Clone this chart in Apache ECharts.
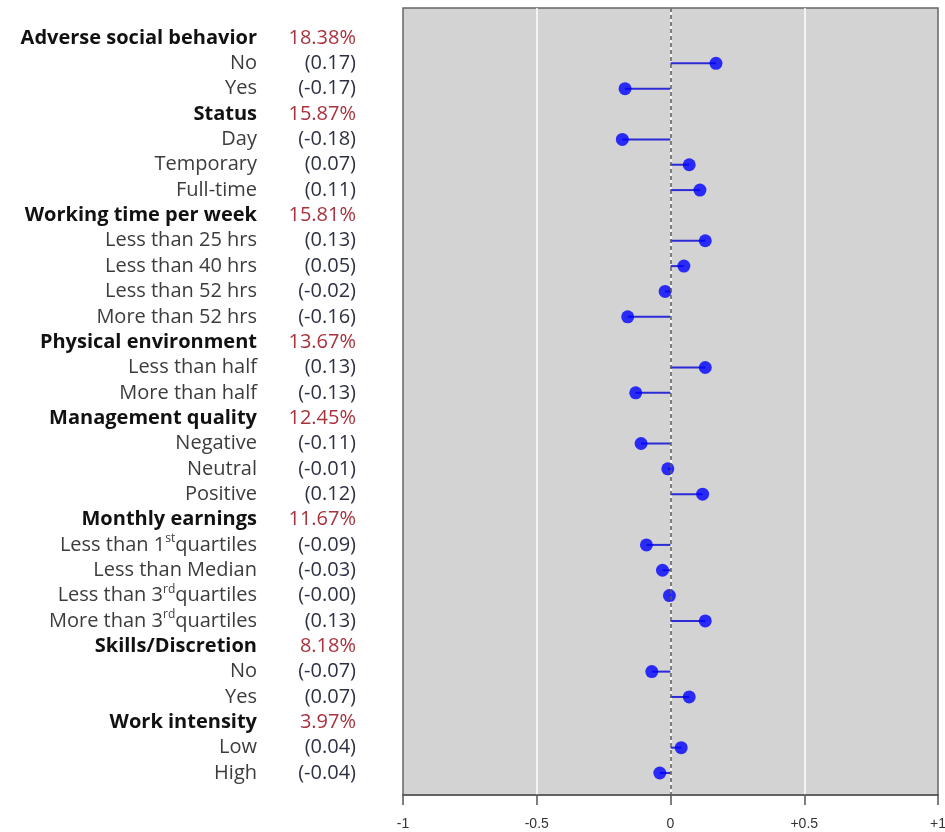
<!DOCTYPE html>
<html>
<head>
<meta charset="utf-8">
<script src="https://cdn.jsdelivr.net/npm/echarts@6/dist/echarts.min.js"></script>
<style>
  html, body { margin: 0; padding: 0; background: #fff; }
  #chart1 { width: 945px; height: 832px; }
</style>
</head>
<body>
<div id="chart1"></div>
<script>
// groups (bold rows) and their importance
var groupNames = ['Adverse social behavior', 'Status', 'Working time per week', 'Physical environment',
  'Management quality', 'Monthly earnings', 'Skills/Discretion', 'Work intensity'];
var groupShares = ['18.38%', '15.87%', '15.81%', '13.67%', '12.45%', '11.67%', '8.18%', '3.97%'];
// sub levels, ^..^ marks superscript
var levelNames = [
  ['No', 'Yes'],
  ['Day', 'Temporary', 'Full-time'],
  ['Less than 25 hrs', 'Less than 40 hrs', 'Less than 52 hrs', 'More than 52 hrs'],
  ['Less than half', 'More than half'],
  ['Negative', 'Neutral', 'Positive'],
  ['Less than 1^st^quartiles', 'Less than Median', 'Less than 3^rd^quartiles', 'More than 3^rd^quartiles'],
  ['No', 'Yes'],
  ['Low', 'High']
];
var levelValues = [
  [0.17, -0.17],
  [-0.18, 0.07, 0.11],
  [0.13, 0.05, -0.02, -0.16],
  [0.13, -0.13],
  [-0.11, -0.01, 0.12],
  [-0.09, -0.03, -0.004, 0.13],
  [-0.07, 0.07],
  [0.04, -0.04]
];
var xTicks = [-1, -0.5, 0, 0.5, 1];

// flatten into rows
var rows = [];
var points = [];
for (var g = 0; g < groupNames.length; g++) {
  rows.push({ header: true, name: groupNames[g], right: groupShares[g] });
  for (var k = 0; k < levelNames[g].length; k++) {
    var v = levelValues[g][k];
    points.push([v, rows.length]);
    rows.push({ header: false, name: levelNames[g][k], right: '(' + v.toFixed(2) + ')' });
  }
}
var rowIdx = rows.map(function (r, i) { return i; });

var FONT = 'Open Sans';
var myChart = echarts.init(document.getElementById('chart1'));

function nameFmt(value) {
  var r = rows[Math.round(value)];
  if (!r) return '';
  if (r.header) return '{h|' + r.name + '}';
  var parts = r.name.split('^');
  var s = '';
  for (var i = 0; i < parts.length; i++) {
    if (parts[i] === '') continue;
    s += (i % 2 ? '{s|' : '{n|') + parts[i] + '}';
  }
  return s;
}
function rightFmt(value) {
  var r = rows[Math.round(value)];
  if (!r) return '';
  return (r.header ? '{p|' : '{v|') + r.right + '}';
}

var yMin = -1.184, yMax = 29.868;

var option = {
  backgroundColor: '#fff',
  animation: false,
  grid: {
    left: 403, right: 7, top: 8, bottom: 37,
    show: true, backgroundColor: '#d3d3d3', borderColor: '#666', borderWidth: 1.5,
    outerBoundsMode: 'none'
  },
  xAxis: {
    type: 'value', min: xTicks[0], max: xTicks[xTicks.length - 1], interval: 0.5,
    axisLine: { show: true, onZero: false, lineStyle: { color: '#555', width: 1.5 } },
    axisTick: { show: true, length: 10, lineStyle: { color: '#555', width: 1.5 } },
    axisLabel: {
      margin: 22, fontSize: 14, color: '#333', fontFamily: 'Liberation Sans',
      formatter: function (v) { return v > 0 ? '+' + v : '' + v; }
    },
    splitLine: { show: true, showMinLine: false, showMaxLine: false, lineStyle: { color: '#fff', width: 1.5 } }
  },
  yAxis: [{
    type: 'value', inverse: true, min: yMin, max: yMax, position: 'left',
    axisLine: { show: false }, axisTick: { show: false }, splitLine: { show: false },
    axisLabel: {
      customValues: rowIdx, margin: 146, formatter: nameFmt,
      rich: {
        h: { fontFamily: FONT, fontSize: 20, fontWeight: 'bold', color: '#111', lineHeight: 24 },
        n: { fontFamily: FONT, fontSize: 20, color: '#3c3c3c', lineHeight: 24 },
        s: { fontFamily: FONT, fontSize: 12, color: '#3c3c3c', lineHeight: 14, verticalAlign: 'top' }
      }
    }
  }, {
    type: 'value', inverse: true, min: yMin, max: yMax, position: 'left', offset: 0,
    axisLine: { show: false }, axisTick: { show: false }, splitLine: { show: false },
    axisLabel: {
      customValues: rowIdx, margin: 47, formatter: rightFmt,
      rich: {
        p: { fontFamily: FONT, fontSize: 20, color: '#a8323e' },
        v: { fontFamily: FONT, fontSize: 20, color: '#2d3142' }
      }
    }
  }],
  series: [{
    type: 'custom',
    data: points,
    encode: { x: 0, y: 1 },
    renderItem: function (params, api) {
      var p0 = api.coord([0, api.value(1)]);
      var p1 = api.coord([api.value(0), api.value(1)]);
      return {
        type: 'line',
        shape: { x1: p0[0], y1: p0[1], x2: p1[0], y2: p1[1] },
        style: { stroke: '#2b2bd6', lineWidth: 2 }
      };
    },
    markLine: {
      silent: true, symbol: 'none', label: { show: false },
      lineStyle: { color: '#555', type: [4, 3], width: 1.5 },
      data: [{ xAxis: 0 }]
    },
    z: 3
  }, {
    type: 'scatter',
    data: points,
    symbol: 'circle', symbolSize: 13,
    itemStyle: { color: '#0000ff' },
    z: 4
  }]
};
myChart.setOption(option);
</script>
</body>
</html>
